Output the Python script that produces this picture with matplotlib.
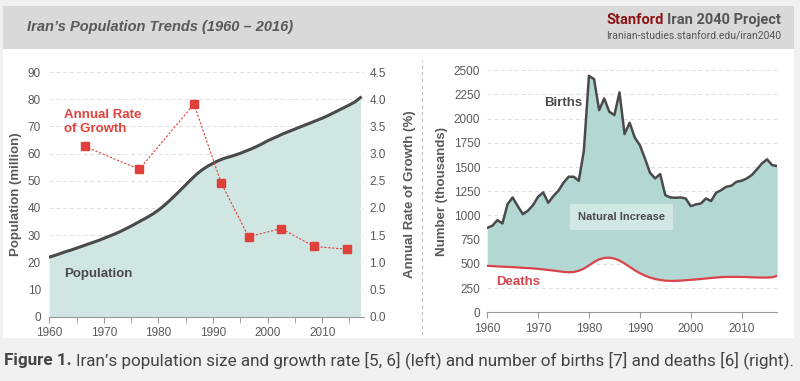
import matplotlib.pyplot as plt
from matplotlib.patches import Rectangle
from matplotlib.lines import Line2D
import numpy as np

plt.rcParams['font.family'] = ['Liberation Sans', 'DejaVu Sans']

# ---- data ----
years = list(range(1960, 2018))
population = [21.9, 22.5, 23.2, 23.9, 24.5, 25.2, 25.9, 26.6, 27.3, 28.0,
              28.8, 29.6, 30.4, 31.3, 32.3, 33.3, 34.4, 35.5, 36.6, 37.8,
              39.2, 40.8, 42.6, 44.5, 46.5, 48.5, 50.5, 52.4, 54.0, 55.3,
              56.4, 57.4, 58.2, 58.8, 59.4, 60.1, 60.9, 61.7, 62.6, 63.6,
              64.7, 65.6, 66.5, 67.4, 68.2, 69.0, 69.8, 70.6, 71.4, 72.2,
              73.0, 73.9, 74.9, 75.9, 76.9, 77.9, 79.0, 80.6]
growth_x = [1966.5, 1976.5, 1986.5, 1991.5, 1996.5, 2002.5, 2008.5, 2014.5]
growth_rate = [3.13, 2.71, 3.91, 2.46, 1.47, 1.62, 1.29, 1.24]

births = [873, 894, 952, 918, 1117, 1186, 1097, 1014, 1049, 1107,
          1193, 1238, 1131, 1200, 1255, 1338, 1400, 1400, 1358, 1668,
          2441, 2407, 2087, 2208, 2070, 2036, 2270, 1840, 1957, 1805,
          1726, 1589, 1441, 1382, 1427, 1210, 1186, 1183, 1186, 1176,
          1097, 1114, 1124, 1176, 1149, 1235, 1262, 1297, 1307, 1348,
          1358, 1382, 1417, 1475, 1537, 1579, 1520, 1510]
deaths = [480, 478, 475, 472, 470, 467, 464, 460, 457, 454,
          449, 444, 438, 432, 425, 418, 414, 417, 430, 452,
          485, 520, 548, 562, 565, 555, 535, 505, 470, 435,
          405, 380, 360, 345, 335, 328, 325, 326, 328, 332,
          336, 340, 345, 350, 355, 360, 364, 366, 367, 367,
          366, 365, 362, 360, 360, 360, 362, 378]

GRAY = '#595959'
DARK = '#4a4a4a'
RED = '#e0403a'

fig = plt.figure(figsize=(8, 3.81), dpi=100)
fig.patch.set_facecolor('#f1f1f1')

# panel + header band
fig.patches.append(Rectangle((3/800, (381-338)/381), 791/800, 289/381,
                             transform=fig.transFigure, facecolor='white',
                             edgecolor='none', zorder=-10))
fig.patches.append(Rectangle((3/800, (381-49)/381), 791/800, 43/381,
                             transform=fig.transFigure, facecolor='#d9d9d9',
                             edgecolor='none', zorder=-9))
fig.lines.append(Line2D([422/800, 422/800], [(381-335)/381, (381-60)/381],
                        transform=fig.transFigure, color='#bbbbbb',
                        lw=0.8, ls=(0, (3, 3))))

fig.text(27/800, 1-27/381, 'Iran\u2019s Population Trends (1960 \u2013 2016)',
         fontsize=10.5, fontstyle='italic', fontweight='bold', color=GRAY,
         va='center', ha='left')

# ---- left chart ----
ax = fig.add_axes([0.0616, 0.169, 0.393, 0.642])
ax.fill_between(years, 0, population, color='#cfe6e3', lw=0)
ax.plot(years, population, color=DARK, lw=2.2)
ax.set_xlim(1960, 2017.6)
ax.set_ylim(0, 90)
ax.set_yticks(range(0, 91, 10))
ax.set_xticks(range(1960, 2011, 10))
ax.set_xticks(range(1965, 2017, 10), minor=True)
for s in ['top', 'right', 'left']:
    ax.spines[s].set_visible(False)
ax.spines['bottom'].set_color('#999999')
ax.tick_params(axis='y', length=0, labelsize=8.5, labelcolor=GRAY, pad=6)
ax.tick_params(axis='x', which='both', length=4, color='#999999',
               labelsize=8.5, labelcolor=GRAY)
ax.grid(axis='y', color='#dddddd', lw=0.7, ls=(0, (4, 3)))
ax.set_axisbelow(True)
ax.set_ylabel('Population (million)', fontsize=9.5, fontweight='bold',
              color=GRAY, labelpad=4)
ax.text(1962.8, 14.5, 'Population', fontsize=9.5, fontweight='bold', color=DARK)

ax2 = ax.twinx()
ax2.plot(growth_x, growth_rate, color=RED, lw=0.8, ls=(0, (2, 1.5)),
         marker='s', ms=5.5, mfc=RED, mec=RED)
ax2.set_ylim(0, 4.5)
ax2.set_yticks(np.arange(0, 4.51, 0.5))
ax2.set_yticklabels(['%.1f' % v for v in np.arange(0, 4.51, 0.5)])
for s in ax2.spines.values():
    s.set_visible(False)
ax2.tick_params(axis='y', length=0, labelsize=8.5, labelcolor=GRAY, pad=4)
ax2.set_ylabel('Annual Rate of Growth (%)', fontsize=9.5, fontweight='bold',
               color=GRAY, labelpad=13)
ax.text(1962.7, 68, 'Annual Rate\nof Growth', fontsize=9.5,
        fontweight='bold', color=RED, linespacing=1.15)

# ---- right chart ----
bx = fig.add_axes([0.609, 0.180, 0.3625, 0.636])
bx.fill_between(years, deaths, births, color='#b3d8d3', lw=0)
bx.plot(years, births, color=DARK, lw=1.8)
bx.plot(years, deaths, color='#d9434a', lw=1.6)
bx.set_xlim(1960, 2017)
bx.set_ylim(0, 2500)
bx.set_yticks(range(0, 2501, 250))
bx.set_xticks(range(1960, 2011, 10))
for s in ['top', 'right', 'left']:
    bx.spines[s].set_visible(False)
bx.spines['bottom'].set_color('#999999')
bx.tick_params(axis='y', length=0, labelsize=8.5, labelcolor=GRAY, pad=5)
bx.tick_params(axis='x', length=4, color='#999999', labelsize=8.5,
               labelcolor=GRAY)
bx.grid(axis='y', color='#dddddd', lw=0.7, ls=(0, (4, 3)))
bx.set_axisbelow(True)
bx.set_ylabel('Number (thousands)', fontsize=9.5, fontweight='bold',
              color=GRAY, labelpad=4)
bx.text(1971.2, 2130, 'Births', fontsize=9.5, fontweight='bold', color=DARK)
bx.text(1961.8, 280, 'Deaths', fontsize=9.5, fontweight='bold', color='#d9434a')
bx.text(1986.4, 985, 'Natural Increase', fontsize=8, fontweight='bold',
        color=DARK, ha='center', va='center',
        bbox=dict(boxstyle='square,pad=0.7', fc='white', ec='none', alpha=0.4))

# ---- header right + caption ----
r = fig.canvas.get_renderer()
t2 = fig.text(781/800, 1-20/381, 'Iran 2040 Project', fontsize=10.5,
              fontweight='bold', color='#555555', ha='right', va='center',
              family='Roboto')
bb = t2.get_window_extent(r)
fig.text((bb.x0 - 3)/800, 1-20/381, 'Stanford', fontsize=10.5,
         fontweight='bold', color='#8c1515', ha='right', va='center',
         family='Roboto')
fig.text(781/800, 1-37/381, 'Iranian-studies.stanford.edu/iran2040',
         fontsize=7.5, color='#555555', ha='right', va='center',
         family='Roboto')

c1 = fig.text(4/800, 1-360/381, 'Figure 1.', fontsize=12.3, fontweight='bold',
              color='#444444', ha='left', va='center', family='Roboto')
bb = c1.get_window_extent(r)
fig.text((bb.x1 + 4)/800, 1-360/381,
         'Iran\u2019s population size and growth rate [5, 6] (left) and number '
         'of births [7] and deaths [6] (right).',
         fontsize=12.3, color='#444444', ha='left', va='center', family='Roboto')

fig.savefig('out.png', dpi=100, facecolor=fig.get_facecolor())
